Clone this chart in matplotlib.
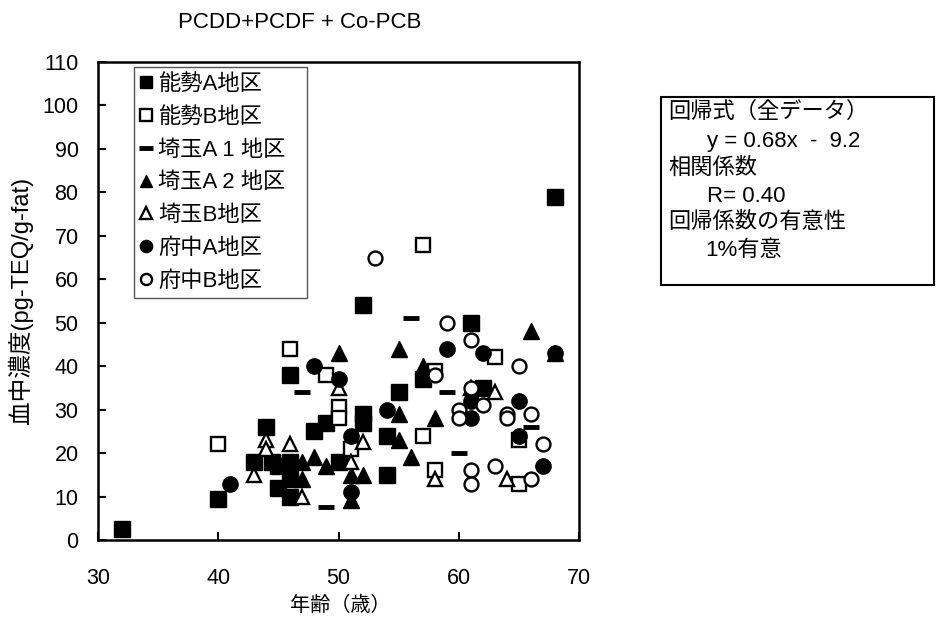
import numpy as np
from matplotlib import pyplot as plt
from matplotlib.patches import Rectangle

plt.rcParams['font.family'] = ['Liberation Sans', 'Noto Sans CJK JP', 'DejaVu Sans']

# 能勢A地区 (filled square)
noseA_x = [32, 40, 44, 43, 44.5, 45, 46, 45, 46, 46, 46, 48, 49, 50, 52, 52, 52, 54, 54, 55, 57, 61, 62, 68]
noseA_y = [2.5, 9.5, 26, 18, 18, 17, 18, 12, 10, 14, 38, 25, 27, 18, 29, 27, 54, 24, 15, 34, 37, 50, 35, 79]
# 能勢B地区 (open square)
noseB_x = [40, 46, 49, 50, 50, 51, 57, 58, 57, 58, 63, 65, 65]
noseB_y = [22, 44, 38, 30.5, 28, 21, 68, 39, 24, 16, 42, 23, 13]
# 埼玉A1地区 (dash)
saiA1_x = [47, 49, 56, 59, 60, 66]
saiA1_y = [34, 7.6, 51, 34, 20, 26]
# 埼玉A2地区 (filled triangle)
saiA2_x = [47, 48, 49, 47, 50, 51, 52, 51, 55, 55, 55, 56, 57, 58, 66, 68, 61]
saiA2_y = [18, 19, 17, 14, 43, 15, 15, 9.2, 44, 29, 23, 19, 40, 28, 48, 43, 33]
# 埼玉B地区 (open triangle)
saiB_x = [43, 44, 44, 46, 47, 50, 51, 52, 58, 61, 63, 64]
saiB_y = [15, 23, 21, 22, 10, 35, 18, 22.6, 14, 35, 34, 14]
# 府中A地区 (filled circle)
fuA_x = [41, 48, 50, 51, 51, 54, 59, 62, 68, 61, 61, 65, 65, 67]
fuA_y = [13, 40, 37, 24, 11, 30, 44, 43, 43, 32, 28, 32, 24, 17]
# 府中B地区 (open circle)
fuB_x = [53, 59, 61, 65, 58, 60, 60, 62, 64, 64, 66, 67, 61, 61, 63, 66, 61]
fuB_y = [65, 50, 46, 40, 38, 30, 28, 31, 29, 28, 29, 22, 16, 13, 17, 14, 35]

fig = plt.figure(figsize=(9.36, 6.23), dpi=100)
ax = fig.add_axes([98/936, 1-540/623, 481/936, 478/623])

ms = 11.5
ax.plot(noseA_x, noseA_y, 's', color='k', ms=ms, label='能勢A地区')
ax.plot(noseB_x, noseB_y, 's', mfc='white', mec='k', mew=1.7, ms=ms-1, label='能勢B地区')
ax.plot(saiA1_x, saiA1_y, '_', color='k', ms=12, mew=3.5, label='埼玉A 1 地区')
ax.plot(saiA2_x, saiA2_y, '^', color='k', ms=ms, label='埼玉A 2 地区')
ax.plot(saiB_x, saiB_y, '^', mfc='white', mec='k', mew=1.7, ms=ms-1, label='埼玉B地区')
ax.plot(fuA_x, fuA_y, 'o', color='k', ms=ms-0.5, label='府中A地区')
ax.plot(fuB_x, fuB_y, 'o', mfc='white', mec='k', mew=1.7, ms=ms-1.5, label='府中B地区')

ax.set_xlim(30, 70)
ax.set_ylim(0, 110)
ax.set_xticks(np.arange(30, 71, 10))
ax.set_yticks(np.arange(0, 111, 10))
ax.tick_params(direction='in', length=6, width=1.5, labelsize=15.5)
ax.tick_params(axis='y', pad=14)
ax.tick_params(axis='x', pad=20)
for s in ax.spines.values():
    s.set_linewidth(1.8)

leg = ax.legend(loc='upper left', bbox_to_anchor=(139/936, 1-74/623), bbox_transform=fig.transFigure,
                fontsize=16, frameon=False, markerscale=0.8,
                handlelength=0.6, handletextpad=0.25, labelspacing=0.53, borderpad=0,
                borderaxespad=0)
fig.patches.append(Rectangle((134/936, 1-298/623), 173/936, 231/623, transform=fig.transFigure,
                             fill=False, edgecolor='#555555', linewidth=1.0))

fig.text(300/936, 1-22/623, 'PCDD+PCDF + Co-PCB', ha='center', va='center', fontsize=16)
fig.text(340/936, 1-605/623, '年齢（歳）', ha='center', va='center', fontsize=14.5)
fig.text(20/936, 1-300/623, '血中濃度(pg-TEQ/g-fat)', ha='center', va='center', rotation=90, fontsize=17)

fig.patches.append(Rectangle((661/936, 1-285/623), 273/936, 188/623, transform=fig.transFigure,
                             fill=False, edgecolor='k', linewidth=1.5))
lines = [('回帰式（全データ）', 668), ('y = 0.68x  -  9.2', 707), ('相関係数', 668),
         ('R= 0.40', 707), ('回帰係数の有意性', 668), ('1%有意', 705)]
ys = [112, 141, 168, 196, 223, 250]
for (t, x), y in zip(lines, ys):
    fig.text(x/936, 1-y/623, t, ha='left', va='center', fontsize=16)

plt.savefig('out.png', dpi=100)
